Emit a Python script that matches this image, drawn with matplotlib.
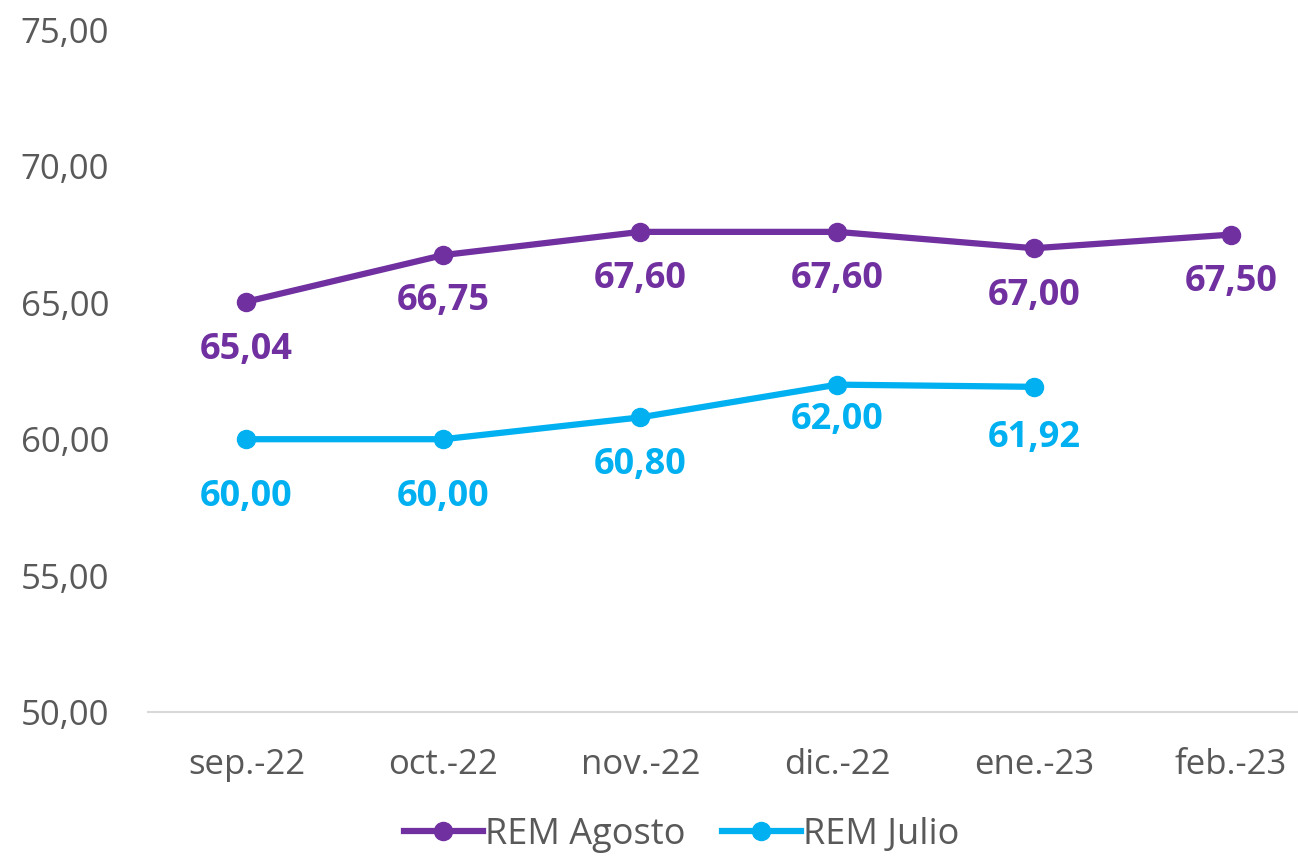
import matplotlib.pyplot as plt

# data
months = ["sep.-22", "oct.-22", "nov.-22", "dic.-22", "ene.-23", "feb.-23"]
rem_agosto = [65.04, 66.75, 67.60, 67.60, 67.00, 67.50]
rem_julio = [60.00, 60.00, 60.80, 62.00, 61.92]

purple = "#7030A0"
cyan = "#00B0F0"
grey = "#595959"

plt.rcParams["font.family"] = ["Open Sans", "DejaVu Sans"]

fig = plt.figure(figsize=(12.98, 8.59), dpi=100)
ax = fig.add_axes([148 / 1298, 147 / 859, 1 - 148 / 1298, 682 / 859])

x_ag = list(range(len(rem_agosto)))
x_ju = list(range(len(rem_julio)))
ax.plot(x_ag, rem_agosto, color=purple, lw=4.5, marker="o", ms=13, label="REM Agosto")
ax.plot(x_ju, rem_julio, color=cyan, lw=4.5, marker="o", ms=13, label="REM Julio")

def fmt(v):
    return f"{v:.2f}".replace(".", ",")

# vertical offset of each value label (pixels below the point)
dy_ag = [48, 46, 47, 47, 48, 47]
dy_ju = [58, 58, 48, 35, 51]
for x, v, d in zip(x_ag, rem_agosto, dy_ag):
    ax.annotate(fmt(v), (x, v), xytext=(0, -d * 0.72), textcoords="offset points",
                ha="center", va="center", color=purple, fontsize=26, fontweight="bold")
for x, v, d in zip(x_ju, rem_julio, dy_ju):
    ax.annotate(fmt(v), (x, v), xytext=(0, -d * 0.72), textcoords="offset points",
                ha="center", va="center", color=cyan, fontsize=26, fontweight="bold")

ax.set_ylim(50, 75)
ax.set_yticks([50, 55, 60, 65, 70, 75])
ax.set_yticklabels([fmt(t) for t in [50, 55, 60, 65, 70, 75]])
ax.set_xlim(-0.5, 5.34)
ax.set_xticks(x_ag)
ax.set_xticklabels(months)
ax.tick_params(axis="both", length=0, labelsize=25, colors=grey)
ax.tick_params(axis="x", pad=26)
ax.tick_params(axis="y", pad=28)
for s in ["top", "right", "left"]:
    ax.spines[s].set_visible(False)
ax.spines["bottom"].set_color("#D9D9D9")
ax.spines["bottom"].set_linewidth(1.5)

leg = fig.legend(loc="center", bbox_to_anchor=(0.525, 0.028), ncol=2, frameon=False,
                 fontsize=26, handlelength=2.2, handletextpad=0.05, columnspacing=1.0,
                 borderpad=0.1)
for t in leg.get_texts():
    t.set_color(grey)

fig.savefig("out.png", dpi=100)
